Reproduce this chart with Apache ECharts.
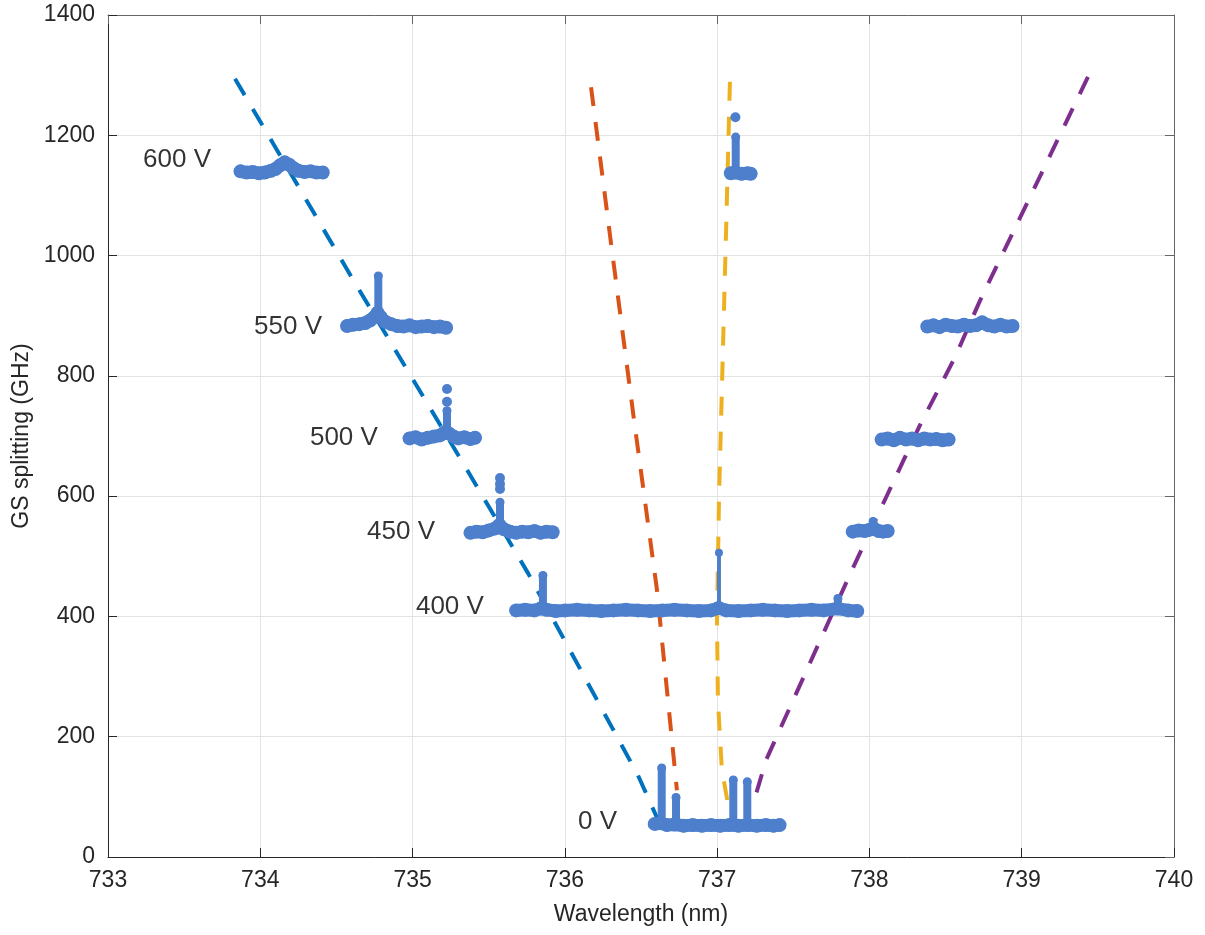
<!DOCTYPE html>
<html>

<head>
    <meta charset="utf-8">
    <title>GS splitting</title>
    <script src="https://cdn.jsdelivr.net/npm/echarts@6/dist/echarts.min.js"></script>
</head>

<body style="margin:0">
    <div id="main" style="width: 1205px;height:935px;"></div>
    <script type="text/javascript">
        // measured plateaus [wavelength nm, GS splitting GHz]
        var band600 = [[733.87, 1140], [733.91, 1138], [733.95, 1139], [733.99, 1137], [734.03, 1138], [734.07, 1141], [734.10, 1144], [734.13, 1150], [734.16, 1155], [734.19, 1151], [734.22, 1145], [734.25, 1141], [734.29, 1139], [734.33, 1140], [734.37, 1138], [734.41, 1138]];
        var band550 = [[734.57, 883], [734.61, 885], [734.65, 886], [734.69, 888], [734.72, 892], [734.75, 898], [734.77, 905], [734.79, 898], [734.82, 890], [734.86, 886], [734.90, 883], [734.94, 882], [734.98, 884], [735.02, 881], [735.06, 882], [735.10, 883], [735.14, 881], [735.18, 882], [735.22, 880]];
        var band500 = [[734.98, 696], [735.02, 698], [735.06, 694], [735.10, 697], [735.14, 699], [735.18, 701], [735.21, 706], [735.24, 704], [735.27, 699], [735.30, 696], [735.34, 698], [735.38, 695], [735.41, 697]];
        var band450 = [[735.38, 539], [735.42, 541], [735.46, 540], [735.50, 543], [735.54, 546], [735.57, 552], [735.60, 545], [735.64, 541], [735.68, 539], [735.72, 541], [735.76, 540], [735.80, 542], [735.84, 539], [735.88, 541], [735.92, 540]];
        var band400 = [[735.68, 410], [735.74, 411], [735.80, 410], [735.84, 413], [735.88, 411], [735.94, 409], [736.00, 410], [736.08, 411], [736.16, 410], [736.24, 409], [736.32, 410], [736.40, 411], [736.48, 410], [736.56, 409], [736.64, 410], [736.72, 411], [736.80, 410], [736.88, 409], [736.96, 410], [737.01, 414], [737.06, 410], [737.14, 409], [737.22, 410], [737.30, 411], [737.38, 410], [737.46, 409], [737.54, 410], [737.62, 411], [737.70, 410], [737.79, 413], [737.86, 410], [737.92, 409]];
        var band0 = [[736.59, 55], [736.63, 56], [736.67, 53], [736.72, 54], [736.78, 52], [736.84, 53], [736.90, 52], [736.96, 53], [737.02, 52], [737.08, 53], [737.14, 52], [737.20, 53], [737.26, 52], [737.32, 53], [737.37, 52], [737.41, 53]];
        var bandTop = [[737.09, 1137], [737.12, 1138], [737.16, 1136], [737.20, 1137], [737.22, 1136]];
        var band880 = [[738.38, 882], [738.42, 884], [738.46, 881], [738.50, 885], [738.54, 883], [738.58, 882], [738.62, 885], [738.66, 883], [738.70, 884], [738.74, 889], [738.78, 884], [738.82, 882], [738.86, 885], [738.90, 882], [738.94, 883]];
        var band695 = [[738.08, 694], [738.12, 696], [738.16, 693], [738.20, 697], [738.24, 694], [738.28, 696], [738.32, 693], [738.36, 696], [738.40, 694], [738.44, 695], [738.48, 693], [738.52, 694]];
        var band540 = [[737.89, 541], [737.93, 543], [737.97, 542], [738.00, 544], [738.03, 546], [738.06, 542], [738.09, 541], [738.12, 542]];

        // vertical peaks [x, base, top]
        var spikes = [[734.775, 900, 966], [735.226, 705, 742], [735.574, 550, 590], [735.856, 415, 468], [737.793, 413, 430],
            [736.636, 55, 148], [736.730, 55, 99], [737.106, 55, 128], [737.198, 55, 125], [737.122, 1138, 1197], [738.024, 543, 558]];
        var thinSpikes = [[737.012, 412, 506]];
        var dots = [[735.226, 778], [735.226, 757], [735.574, 630], [735.574, 620], [735.574, 612], [737.12, 1230]];

        // dashed guide curves
        var blueFit = [[733.834, 1294], [734.090, 1184], [734.602, 963], [735.114, 747], [735.397, 627], [735.758, 472], [736.480, 136], [736.611, 62]];
        var orangeFit = [[736.172, 1280], [736.309, 1009], [736.454, 727], [736.605, 444], [736.736, 111]];
        var yellowFit = [[737.084, 1289], [737.064, 1093], [737.038, 843], [737.012, 594], [736.999, 394], [737.005, 261], [737.031, 145], [737.084, 70]];
        var purpleFit = [[739.435, 1297], [738.726, 925], [738.562, 831], [738.332, 718], [738.102, 594], [737.885, 477], [737.321, 161], [737.229, 82]];

        var voltNames = ['600 V', '550 V', '500 V', '450 V', '400 V', '0 V'];
        var voltPos = [[733.23, 1159], [733.959, 881], [734.326, 697], [734.701, 540], [735.022, 416], [736.086, 58]];

        var xTicks = [733, 734, 735, 736, 737, 738, 739, 740];
        var yTicks = [0, 200, 400, 600, 800, 1000, 1200, 1400];

        var dom = document.getElementById("main");
        var myChart = echarts.init(dom);
        var FONT = 'Liberation Sans, Arial, sans-serif';
        var PT = '#4D7FCC';

        var series = [];
        function dashed(data, color) {
            series.push({
                type: 'line', data: data, symbol: 'none', silent: true, z: 2,
                lineStyle: { color: color, width: 4, type: [19, 16], cap: 'butt' }
            });
        }
        dashed(blueFit, '#0072BD');
        dashed(orangeFit, '#D95319');
        dashed(yellowFit, '#EDB120');
        dashed(purpleFit, '#7E2F8E');

        [band600, band550, band500, band450, band400, band0, bandTop, band880, band695, band540].forEach(function (b) {
            series.push({
                type: 'line', data: b, symbol: 'circle', symbolSize: 14, showSymbol: true, z: 5,
                itemStyle: { color: PT }, lineStyle: { color: PT, width: 13, cap: 'round', join: 'round' }
            });
        });
        spikes.forEach(function (s) {
            series.push({
                type: 'line', data: [[s[0], s[1]], [s[0], s[2]]], symbol: 'circle', symbolSize: 9, z: 5,
                itemStyle: { color: PT }, lineStyle: { color: PT, width: 8, cap: 'round' }
            });
        });
        thinSpikes.forEach(function (s) {
            series.push({
                type: 'line', data: [[s[0], s[1]], [s[0], s[2]]], symbol: 'circle', symbolSize: 8, z: 5,
                itemStyle: { color: PT }, lineStyle: { color: PT, width: 4 }
            });
        });
        series.push({
            type: 'scatter', data: dots, symbolSize: 10, z: 5, itemStyle: { color: PT, opacity: 1 }
        });
        series.push({
            type: 'scatter', symbolSize: 0, z: 6,
            data: voltPos.map(function (p, i) { return { value: p, name: voltNames[i] }; }),
            label: {
                show: true, position: 'right', distance: 0, formatter: '{b}',
                fontFamily: FONT, fontSize: 26, color: '#000'
            }
        });

        function plain(v) { return String(v); }

        var option = {
            animation: false,
            backgroundColor: '#fff',
            grid: { left: 108, top: 15, right: 31, bottom: 78, containLabel: false, outerBoundsMode: 'none' },
            xAxis: [{
                type: 'value', min: xTicks[0], max: xTicks[xTicks.length - 1], interval: 1,
                name: 'Wavelength (nm)', nameLocation: 'middle', nameGap: 46,
                nameTextStyle: { fontFamily: FONT, fontSize: 23, color: '#262626' },
                axisLine: { show: true, onZero: false, lineStyle: { color: '#262626', width: 1 } },
                axisTick: { show: true, inside: true, length: 9, lineStyle: { color: '#262626' } },
                axisLabel: { fontFamily: FONT, fontSize: 23, color: '#262626', margin: 12, formatter: plain },
                splitLine: { show: true, lineStyle: { color: '#e3e3e3', width: 1 } }
            }, {
                type: 'value', position: 'top', min: xTicks[0], max: xTicks[xTicks.length - 1], interval: 1,
                axisLine: { show: true, onZero: false, lineStyle: { color: '#666', width: 1 } },
                axisTick: { show: true, inside: true, length: 9, lineStyle: { color: '#666' } },
                axisLabel: { show: false }, splitLine: { show: false }
            }],
            yAxis: [{
                type: 'value', min: yTicks[0], max: yTicks[yTicks.length - 1], interval: 200,
                name: 'GS splitting (GHz)', nameLocation: 'middle', nameGap: 52,
                nameTextStyle: { fontFamily: FONT, fontSize: 23, color: '#262626' },
                axisLine: { show: true, onZero: false, lineStyle: { color: '#262626', width: 1 } },
                axisTick: { show: true, inside: true, length: 9, lineStyle: { color: '#262626' } },
                axisLabel: { fontFamily: FONT, fontSize: 23, color: '#262626', margin: 13, formatter: plain },
                splitLine: { show: true, lineStyle: { color: '#e3e3e3', width: 1 } }
            }, {
                type: 'value', position: 'right', min: yTicks[0], max: yTicks[yTicks.length - 1], interval: 200,
                axisLine: { show: true, onZero: false, lineStyle: { color: '#666', width: 1 } },
                axisTick: { show: true, inside: true, length: 9, lineStyle: { color: '#666' } },
                axisLabel: { show: false }, splitLine: { show: false }
            }],
            series: series
        };
        myChart.setOption(option);
    </script>
</body>

</html>
